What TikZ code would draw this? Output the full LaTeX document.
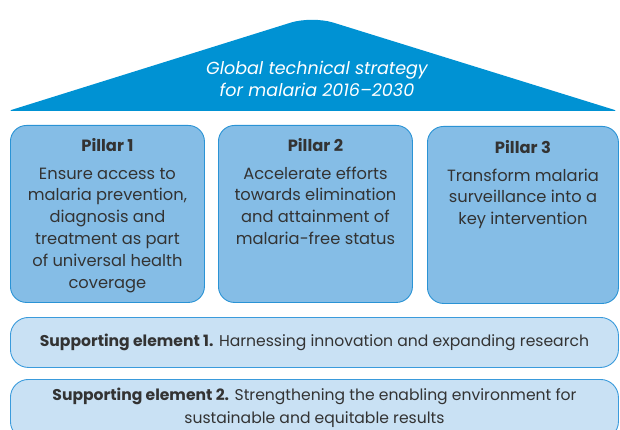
\documentclass[tikz,border=0pt]{standalone}
\usepackage{fontspec}
\setmainfont{Poppins}
\definecolor{triblue}{HTML}{0092D3}
\definecolor{pillfill}{HTML}{85BDE6}
\definecolor{pilledge}{HTML}{2A93D5}
\definecolor{supfill}{HTML}{C9E1F4}
\definecolor{supedge}{HTML}{3A9BDC}
\definecolor{txt}{HTML}{333333}
\begin{document}
\begin{tikzpicture}[x=1pt,y=-1pt,
  pillar/.style={draw=pilledge,line width=0.9pt,fill=pillfill,rounded corners=16pt,
    minimum width=194pt,minimum height=177pt,anchor=north west,inner sep=0pt},
  support/.style={draw=supedge,line width=0.9pt,fill=supfill,rounded corners=18pt,
    minimum width=608pt,minimum height=50pt,anchor=north west,inner sep=0pt},
  ptext/.style={anchor=north,align=center,text=txt,inner sep=0pt,
    font=\fontsize{16.3}{21.8}\selectfont},
  stext/.style={align=center,text=txt,inner sep=0pt,font=\fontsize{15.6}{23}\selectfont}]
\useasboundingbox (0,0) rectangle (620,430);
% roof
\path[fill=triblue] (312,111) [rounded corners=4pt] -- (8,111) [rounded corners=22pt] -- (312,16) [rounded corners=4pt] -- (618,111) [sharp corners] -- cycle;
\node[text=white,align=center,inner sep=0pt,font=\fontsize{17.5}{22}\selectfont\itshape] (roof) at (317,79)
  {Global technical strategy\\for malaria 2016--2030};
% pillars
\node[pillar] (p1) at (10,125) {};
\node[pillar] (p2) at (218,125) {};
\node[pillar,minimum width=191pt] (p3) at (427,126) {};
\node[ptext] (p1t) at ([yshift=-13pt]p1.north) {\textbf{Pillar 1}\\[6pt]Ensure access to\\malaria prevention,\\diagnosis and\\treatment as part\\of universal health\\coverage};
\node[ptext] (p2t) at ([yshift=-13pt]p2.north) {\textbf{Pillar 2}\\[6pt]Accelerate efforts\\towards elimination\\and attainment of\\malaria-free status};
\node[ptext] (p3t) at ([yshift=-14pt]p3.north) {\textbf{Pillar 3}\\[6pt]Transform malaria\\surveillance into a\\key intervention};
% supporting elements
\node[support] (s1) at (10,317) {};
\node[stext] (s1t) at (s1.center) {\textbf{Supporting element 1.} Harnessing innovation and expanding research};
\node[support,minimum height=60pt] (s2) at (10,379) {};
\node[stext,anchor=north] (s2t) at ([yshift=-9pt]s2.north) {\textbf{Supporting element 2.} Strengthening the enabling environment for\\sustainable and equitable results};
\end{tikzpicture}
\end{document}
